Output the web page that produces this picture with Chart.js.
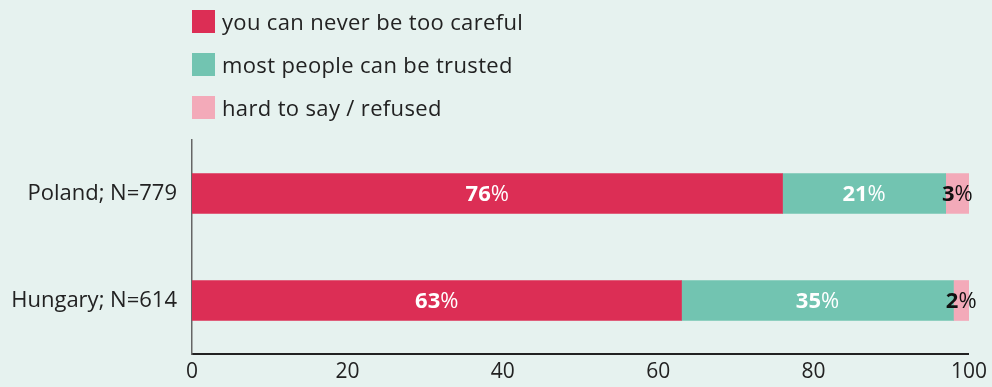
<!DOCTYPE html>
<html>
<head>
<meta charset="utf-8">
<script src="https://cdn.jsdelivr.net/npm/chart.js@4.4.1/dist/chart.umd.min.js"></script>
<style>
  html, body { margin: 0; padding: 0; background: #e6f2ef; }
  #wrap { position: relative; width: 992px; height: 387px; }
  #legend { position: absolute; left: 192px; top: 8px; font-family: "Open Sans", sans-serif; font-size: 22px; letter-spacing: 0.35px; color: #222; }
  .item { display: flex; align-items: center; height: 26px; margin-bottom: 17px; }
  .box { width: 23px; height: 23px; margin-right: 7px; }
</style>
</head>
<body>
<div id="wrap">
  <canvas id="trustChart" width="992" height="387"></canvas>
  <div id="legend"></div>
</div>
<script>
// Survey answers, percent of respondents
const countries = ['Poland; N=779', 'Hungary; N=614'];
const seriesNames = ['you can never be too careful', 'most people can be trusted', 'hard to say / refused'];
const careful = [76, 63];
const trusted = [21, 35];
const refused = [3, 2];
const xTicks = [0, 20, 40, 60, 80, 100];

const colors = ['#dc2e55', '#72c4b1', '#f3aab9'];
const labelColors = ['#ffffff', '#ffffff', '#111111'];
const FONT = '"Open Sans", sans-serif';

// Legend as plain HTML, stacked vertically
const legend = document.getElementById('legend');
seriesNames.forEach((name, i) => {
    legend.innerHTML += `<div class="item"><div class="box" style="background:${colors[i]}"></div>${name}</div>`;
});

// Bold number followed by a regular "%" centred on each segment
const valueLabels = {
    id: 'valueLabels',
    afterDatasetsDraw(chart) {
        const ctx = chart.ctx;
        ctx.save();
        ctx.textBaseline = 'middle';
        chart.data.datasets.forEach((ds, di) => {
            chart.getDatasetMeta(di).data.forEach((bar, i) => {
                const num = String(ds.data[i]);
                ctx.font = `bold 22px ${FONT}`;
                const w1 = ctx.measureText(num).width;
                ctx.font = `22px ${FONT}`;
                const w2 = ctx.measureText('%').width;
                const cx = (bar.x + bar.base) / 2;
                const x0 = cx - (w1 + w2) / 2;
                ctx.fillStyle = labelColors[di];
                ctx.textAlign = 'left';
                ctx.font = `bold 22px ${FONT}`;
                ctx.fillText(num, x0, bar.y + 1);
                ctx.font = `22px ${FONT}`;
                ctx.fillText('%', x0 + w1, bar.y + 1);
            });
        });
        ctx.restore();
    }
};

new Chart(document.getElementById('trustChart'), {
    type: 'bar',
    data: {
        labels: countries,
        datasets: [careful, trusted, refused].map((d, i) => ({
            label: seriesNames[i],
            data: d,
            backgroundColor: colors[i],
            borderWidth: 0,
            barThickness: 40
        }))
    },
    options: {
        indexAxis: 'y',
        responsive: false,
        animation: false,
        layout: { padding: { top: 140, right: 18, left: 0, bottom: 0 } },
        plugins: { legend: { display: false }, tooltip: { enabled: false } },
        scales: {
            x: {
                stacked: true,
                min: 0,
                max: 100,
                afterBuildTicks: axis => { axis.ticks = xTicks.map(v => ({ value: v })); },
                afterFit: axis => { axis.height = 33; },
                grid: { display: false, drawTicks: false },
                border: { color: '#222', width: 2 },
                ticks: { color: '#222', padding: 5, font: { family: FONT, size: 21 } }
            },
            y: {
                stacked: true,
                afterFit: axis => { axis.width = 192; },
                grid: { display: false, drawTicks: false },
                border: { color: '#666', width: 1.5 },
                ticks: { color: '#222', padding: 15, font: { family: FONT, size: 22 } }
            }
        }
    },
    plugins: [valueLabels]
});
</script>
</body>
</html>
